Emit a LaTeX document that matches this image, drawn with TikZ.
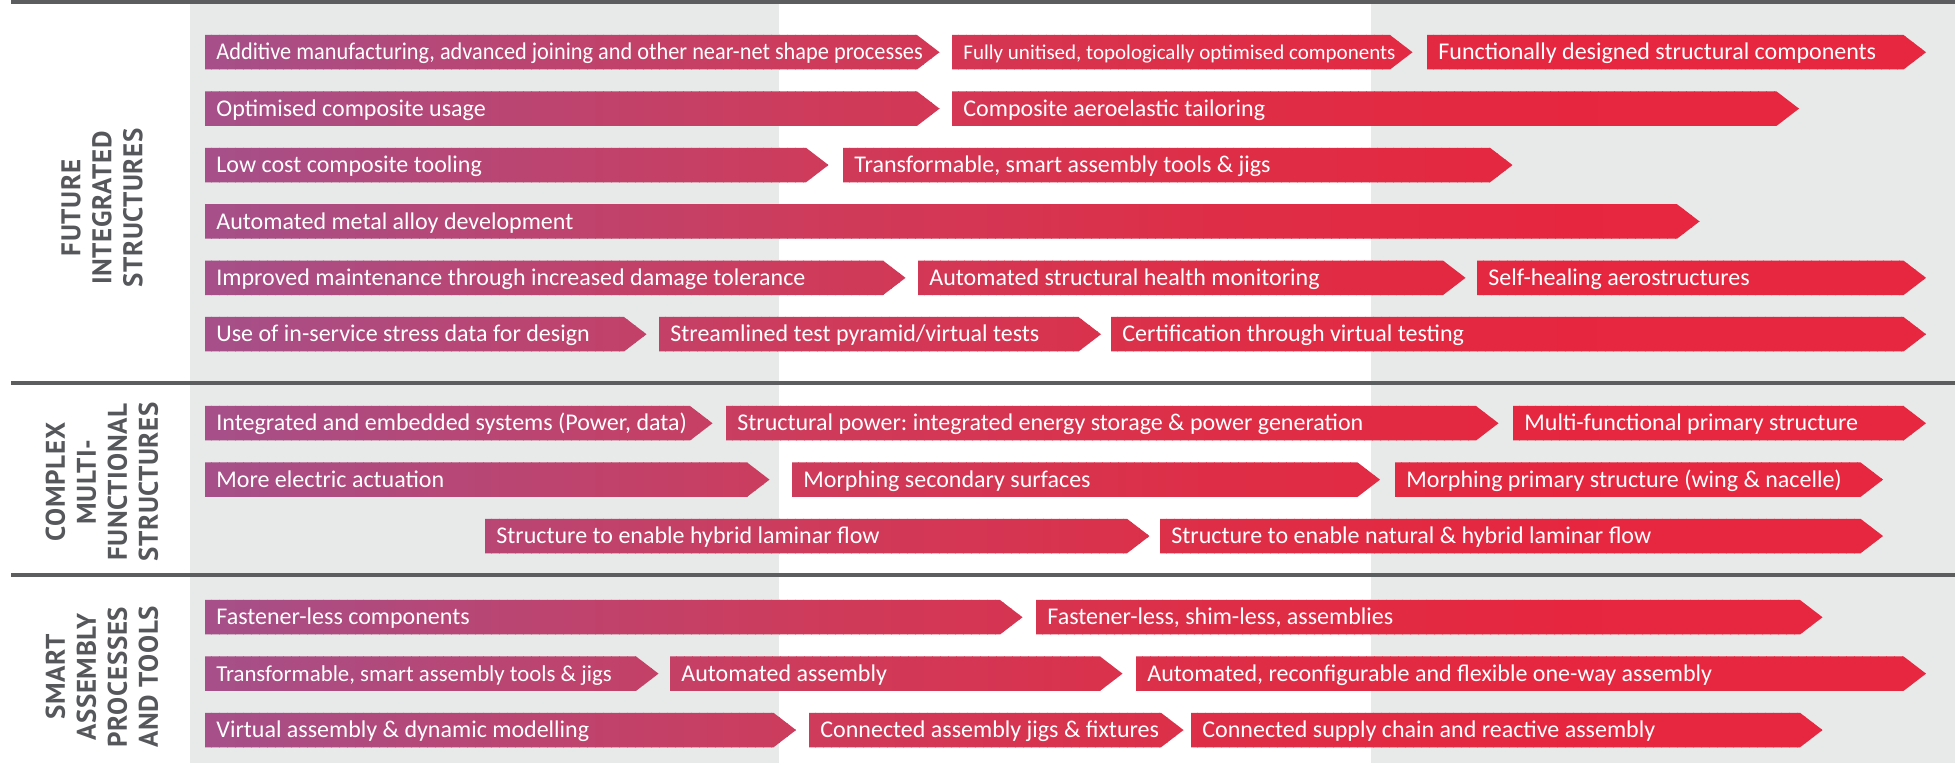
\documentclass[tikz,border=0pt]{standalone}
\usepackage{fontspec}
\setmainfont{Carlito}
\newfontfamily\condfont{Carlito}[FakeStretch=0.93]
\newfontfamily\headfont{PT Sans}[LetterSpace=2.5]

\definecolor{panelgray}{HTML}{E8E9E9}
\definecolor{rulegray}{HTML}{5B5D5F}
\definecolor{labelgray}{HTML}{55575A}

% colour of the purple-to-red timeline gradient at position x (piecewise linear)
\newcommand\gradcolor[2]{%
  \pgfmathsetmacro\gx{#2}%
  \pgfmathsetmacro\ta{min(1,max(0,(\gx-205)/595))}%
  \pgfmathsetmacro\tb{min(1,max(0,(\gx-800)/400))}%
  \pgfmathsetmacro\tc{min(1,max(0,(\gx-1200)/400))}%
  \pgfmathtruncatemacro\gR{166+40*\ta+16*\tb+9*\tc}%
  \pgfmathtruncatemacro\gG{80-20*\ta-13*\tb-9*\tc}%
  \pgfmathtruncatemacro\gB{138-46*\ta-20*\tb-9*\tc}%
  \definecolor{#1}{RGB}{\gR,\gG,\gB}%
}

% \roadbar[label options]{name}{left x}{body end x}{top y}{text}
\newcommand\roadbar[6][]{%
  \begin{scope}
    \clip ({#3},{#5}) -- ({#4},{#5}) -- ++(22.5,17.25)
       -- ({#4},{#5+34.5}) -- ({#3},{#5+34.5}) -- cycle;
    \pgfmathtruncatemacro\sA{#3-2}%
    \pgfmathtruncatemacro\sB{#3+6}%
    \pgfmathtruncatemacro\sE{#4+24}%
    \foreach \sx in {\sA,\sB,...,\sE}{%
      \gradcolor{stripc}{\sx+4}%
      \fill[stripc] (\sx,{#5-1}) rectangle ({\sx+9},{#5+36});
    }
  \end{scope}
  \node[barlabel,#1] (#2) at ({#3+11},{#5+25}) {#6};
}

\begin{document}
\frenchspacing
\begin{tikzpicture}[x=0.5pt,y=-0.5pt,
  barlabel/.style={anchor=base west, inner sep=0pt, text=white,
    font=\fontsize{12}{14}\selectfont},
  smalllabel/.style={font=\fontsize{10.5}{12}\selectfont},
  narrowlabel/.style={font=\fontsize{11.4}{13}\selectfont},
  condlabel/.style={font=\condfont\fontsize{12}{14}\selectfont},
  sectionlabel/.style={rotate=90, align=center, inner sep=0pt, text=labelgray,
    font=\headfont\bfseries\fontsize{13.5}{15.5}\selectfont},
  rule/.style={draw=rulegray, line width=1.75pt}]
\useasboundingbox (0,0) rectangle (1955,763);

% time-band backgrounds
\fill[panelgray] (190,4) rectangle (779,763);
\fill[panelgray] (1371,4) rectangle (1955,763);

% separators
\draw[rule] (11,2) -- (1955,2);
\draw[rule] (11,383) -- (1955,383);
\draw[rule] (11,575) -- (1955,575);

% section titles
\node[sectionlabel] (secfis) at (102,208) {FUTURE\\INTEGRATED\\STRUCTURES};
\node[sectionlabel] (seccmf) at (102,482) {COMPLEX\\MULTI-\\FUNCTIONAL\\STRUCTURES};
\node[sectionlabel] (secsap) at (102,677) {SMART\\ASSEMBLY\\PROCESSES\\AND TOOLS};

% Future integrated structures
\roadbar[condlabel]{fi1a}{205}{917}{35}{Additive manufacturing, advanced joining and other near-net shape processes}
\roadbar[smalllabel]{fi1b}{952}{1390}{35}{Fully unitised, topologically optimised components}
\roadbar{fi1c}{1427}{1903.5}{35}{Functionally designed structural components}

\roadbar{fi2a}{205}{917}{91.4}{Optimised composite usage}
\roadbar{fi2b}{952}{1776.5}{91.4}{Composite aeroelastic tailoring}

\roadbar{fi3a}{205}{806}{147.8}{Low cost composite tooling}
\roadbar{fi3b}{843}{1490}{147.8}{Transformable, smart assembly tools \& jigs}

\roadbar{fi4a}{205}{1677}{204.2}{Automated metal alloy development}

\roadbar{fi5a}{205}{883}{260.6}{Improved maintenance through increased damage tolerance}
\roadbar{fi5b}{918}{1443}{260.6}{Automated structural health monitoring}
\roadbar{fi5c}{1477}{1903.5}{260.6}{Self-healing aerostructures}

\roadbar{fi6a}{205}{624}{317}{Use of in-service stress data for design}
\roadbar{fi6b}{659}{1078.5}{317}{Streamlined test pyramid/virtual tests}
\roadbar{fi6c}{1111}{1903.5}{317}{Certification through virtual testing}

% Complex multi-functional structures
\roadbar{cm1a}{205}{690}{406}{Integrated and embedded systems (Power, data)}
\roadbar{cm1b}{726}{1476}{406}{Structural power: integrated energy storage \& power generation}
\roadbar{cm1c}{1513}{1903.5}{406}{Multi-functional primary structure}

\roadbar{cm2a}{205}{747}{462.4}{More electric actuation}
\roadbar{cm2b}{792}{1357.5}{462.4}{Morphing secondary surfaces}
\roadbar{cm2c}{1395}{1860.5}{462.4}{Morphing primary structure (wing \& nacelle)}

\roadbar{cm3a}{485}{1127}{518.8}{Structure to enable hybrid laminar flow}
\roadbar{cm3b}{1160}{1860.5}{518.8}{Structure to enable natural \& hybrid laminar flow}

% Smart assembly processes and tools
\roadbar{sa1a}{205}{1000}{600}{Fastener-less components}
\roadbar{sa1b}{1036}{1800}{600}{Fastener-less, shim-less, assemblies}

\roadbar[narrowlabel]{sa2a}{205}{636}{656.4}{Transformable, smart assembly tools \& jigs}
\roadbar{sa2b}{670}{1100}{656.4}{Automated assembly}
\roadbar{sa2c}{1136}{1903.5}{656.4}{Automated, reconfigurable and flexible one-way assembly}

\roadbar{sa3a}{205}{773.5}{712.8}{Virtual assembly \& dynamic modelling}
\roadbar{sa3b}{809}{1161}{712.8}{Connected assembly jigs \& fixtures}
\roadbar{sa3c}{1191}{1800}{712.8}{Connected supply chain and reactive assembly}
\end{tikzpicture}
\end{document}
